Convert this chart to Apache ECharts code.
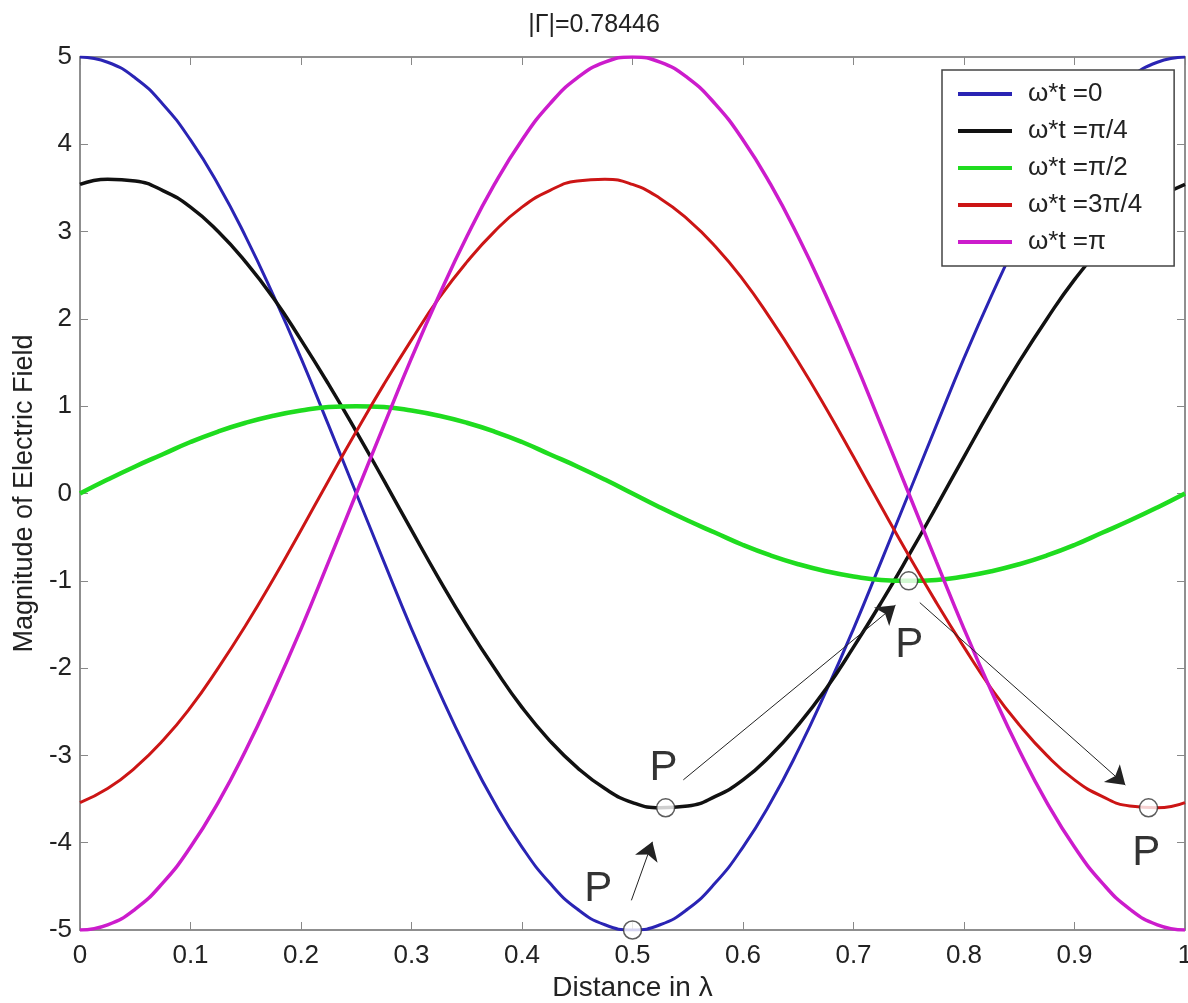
<!DOCTYPE html>
<html>
<head>
<meta charset="utf-8">
<script src="https://cdn.jsdelivr.net/npm/echarts@6/dist/echarts.min.js"></script>
<style>
html, body { margin: 0; padding: 0; background: #fff; }
#fieldChart { width: 1188px; height: 1003px; }
</style>
</head>
<body>
<div id="fieldChart"></div>
<script>
// distance along the line, in wavelengths
var distance = [0, 0.025, 0.05, 0.075, 0.1, 0.125, 0.15, 0.175, 0.2, 0.225, 0.25, 0.275, 0.3, 0.325, 0.35, 0.375, 0.4, 0.425, 0.45, 0.475, 0.5,
  0.525, 0.55, 0.575, 0.6, 0.625, 0.65, 0.675, 0.7, 0.725, 0.75, 0.775, 0.8, 0.825, 0.85, 0.875, 0.9, 0.925, 0.95, 0.975, 1];

// field, one array per time step
var wt0 = [5.00, 4.94, 4.76, 4.46, 4.05, 3.54, 2.94, 2.27, 1.55, 0.78, 0.00, -0.78, -1.55, -2.27, -2.94, -3.54, -4.05, -4.46, -4.76, -4.94, -5.00,
  -4.94, -4.76, -4.46, -4.05, -3.54, -2.94, -2.27, -1.55, -0.78, 0.00, 0.78, 1.55, 2.27, 2.94, 3.54, 4.05, 4.46, 4.76, 4.94, 5.00];
var wtQuarter = [3.54, 3.60, 3.58, 3.47, 3.28, 3.00, 2.65, 2.24, 1.76, 1.25, 0.71, 0.15, -0.42, -0.98, -1.51, -2.00, -2.45, -2.83, -3.14, -3.38, -3.54,
  -3.60, -3.58, -3.47, -3.28, -3.00, -2.65, -2.24, -1.76, -1.25, -0.71, -0.15, 0.42, 0.98, 1.51, 2.00, 2.45, 2.83, 3.14, 3.38, 3.54];
var wtHalf = [0.00, 0.16, 0.31, 0.45, 0.59, 0.71, 0.81, 0.89, 0.95, 0.99, 1.00, 0.99, 0.95, 0.89, 0.81, 0.71, 0.59, 0.45, 0.31, 0.16, 0.00,
  -0.16, -0.31, -0.45, -0.59, -0.71, -0.81, -0.89, -0.95, -0.99, -1.00, -0.99, -0.95, -0.89, -0.81, -0.71, -0.59, -0.45, -0.31, -0.16, 0.00];
var wt3Quarter = [-3.54, -3.38, -3.14, -2.83, -2.45, -2.00, -1.51, -0.98, -0.42, 0.15, 0.71, 1.25, 1.76, 2.24, 2.65, 3.00, 3.28, 3.47, 3.58, 3.60, 3.54,
  3.38, 3.14, 2.83, 2.45, 2.00, 1.51, 0.98, 0.42, -0.15, -0.71, -1.25, -1.76, -2.24, -2.65, -3.00, -3.28, -3.47, -3.58, -3.60, -3.54];
var wtPi = [-5.00, -4.94, -4.76, -4.46, -4.05, -3.54, -2.94, -2.27, -1.55, -0.78, 0.00, 0.78, 1.55, 2.27, 2.94, 3.54, 4.05, 4.46, 4.76, 4.94, 5.00,
  4.94, 4.76, 4.46, 4.05, 3.54, 2.94, 2.27, 1.55, 0.78, 0.00, -0.78, -1.55, -2.27, -2.94, -3.54, -4.05, -4.46, -4.76, -4.94, -5.00];

var seriesNames = ["ω*t =0", "ω*t =π/4", "ω*t =π/2", "ω*t =3π/4", "ω*t =π"];
var xTicks = [0, 0.1, 0.2, 0.3, 0.4, 0.5, 0.6, 0.7, 0.8, 0.9, 1];
var yTicks = [-5, -4, -3, -2, -1, 0, 1, 2, 3, 4, 5];

// point P at each instant, where its label sits, and the arrows between them
var markerPts = [[0.5, -5], [0.53, -3.6], [0.75, -1.0], [0.967, -3.6]];
var labelPts = [[0.469, -4.53], [0.528, -3.15], [0.7505, -1.74], [0.965, -4.12]];
var arrowSegs = [
  [[0.499, -4.66], [0.518, -3.99]],
  [[0.546, -3.28], [0.738, -1.28]],
  [[0.760, -1.25], [0.946, -3.34]]
];

var font = "Liberation Sans, Arial, sans-serif";

function pairUp(ys) {
  return distance.map(function (x, i) { return [x, ys[i]]; });
}

function curve(name, ys, color, width) {
  return {
    name: name,
    type: "line",
    data: pairUp(ys),
    smooth: true,
    symbol: "none",
    lineStyle: { color: color, width: width },
    itemStyle: { color: color },
    silent: true,
    z: 2
  };
}

var fieldChart = echarts.init(document.getElementById("fieldChart"));

fieldChart.setOption({
  animation: false,
  backgroundColor: "#fff",
  title: {
    text: "|Γ|=0.78446",
    left: "center",
    top: 8,
    textStyle: { fontFamily: font, fontSize: 25, fontWeight: "normal", color: "#222" }
  },
  legend: {
    data: seriesNames,
    orient: "vertical",
    left: 942,
    top: 70,
    padding: [9, 32, 9, 16],
    icon: "rect",
    itemWidth: 54,
    itemHeight: 4,
    itemGap: 7,
    backgroundColor: "#fff",
    borderColor: "#444",
    borderWidth: 1.5,
    borderRadius: 0,
    textStyle: { fontFamily: font, fontSize: 26, color: "#222", lineHeight: 30, padding: [0, 0, 0, 11] }
  },
  grid: { left: 80, right: 3, top: 57, bottom: 73, outerBoundsMode: "none", show: true, borderColor: "#888", borderWidth: 1.5 },
  xAxis: [{
    type: "value",
    min: 0,
    max: 1,
    interval: 0.1,
    name: "Distance in λ",
    nameLocation: "middle",
    nameGap: 44,
    nameTextStyle: { fontFamily: font, fontSize: 28, color: "#222" },
    axisLine: { onZero: false, lineStyle: { color: "#888", width: 1.5 } },
    axisTick: { inside: true, length: 8, lineStyle: { color: "#888" } },
    axisLabel: { margin: 13, fontFamily: font, fontSize: 26, color: "#222",
      formatter: function (v) { return String(Math.round(v * 10) / 10); } },
    splitLine: { show: false }
  }, {
    type: "value",
    position: "top",
    min: 0,
    max: 1,
    interval: 0.1,
    axisLine: { onZero: false, lineStyle: { color: "#888", width: 1.5 } },
    axisTick: { inside: true, length: 8, lineStyle: { color: "#888" } },
    axisLabel: { show: false },
    splitLine: { show: false }
  }],
  yAxis: [{
    type: "value",
    min: yTicks[0],
    max: yTicks[yTicks.length - 1],
    interval: 1,
    name: "Magnitude of Electric Field",
    nameLocation: "middle",
    nameGap: 25,
    nameTextStyle: { fontFamily: font, fontSize: 27, color: "#222" },
    axisLine: { show: true, onZero: false, lineStyle: { color: "#888", width: 1.5 } },
    axisTick: { show: true, inside: true, length: 8, lineStyle: { color: "#888" } },
    axisLabel: { margin: 8, fontFamily: font, fontSize: 26, color: "#222" },
    splitLine: { show: false }
  }, {
    type: "value",
    position: "right",
    min: yTicks[0],
    max: yTicks[yTicks.length - 1],
    interval: 1,
    axisLine: { show: true, onZero: false, lineStyle: { color: "#888", width: 1.5 } },
    axisTick: { show: true, inside: true, length: 8, lineStyle: { color: "#888" } },
    axisLabel: { show: false },
    splitLine: { show: false }
  }],
  series: [
    curve(seriesNames[0], wt0, "#2a24b4", 3),
    curve(seriesNames[1], wtQuarter, "#111111", 3.5),
    curve(seriesNames[2], wtHalf, "#1fdc1f", 4.5),
    curve(seriesNames[3], wt3Quarter, "#cc1515", 3),
    curve(seriesNames[4], wtPi, "#cc1ccc", 3.5),
    {
      name: "P",
      type: "scatter",
      data: markerPts,
      symbol: "circle",
      symbolSize: 18,
      itemStyle: { color: "#fff", borderColor: "#333", borderWidth: 1.5 },
      silent: true,
      z: 5,
      markLine: {
        silent: true,
        symbol: ["none", "arrow"],
        symbolSize: 18,
        label: { show: false },
        lineStyle: { color: "#222", width: 1, type: "solid" },
        data: arrowSegs.map(function (s) {
          return [{ coord: s[0] }, { coord: s[1] }];
        })
      }
    },
    {
      name: "P label",
      type: "scatter",
      data: labelPts,
      symbolSize: 1,
      itemStyle: { color: "rgba(0,0,0,0)" },
      silent: true,
      z: 6,
      label: {
        show: true,
        position: "inside",
        formatter: "P",
        fontFamily: font,
        fontSize: 42,
        color: "#000"
      }
    }
  ]
});
</script>
</body>
</html>
